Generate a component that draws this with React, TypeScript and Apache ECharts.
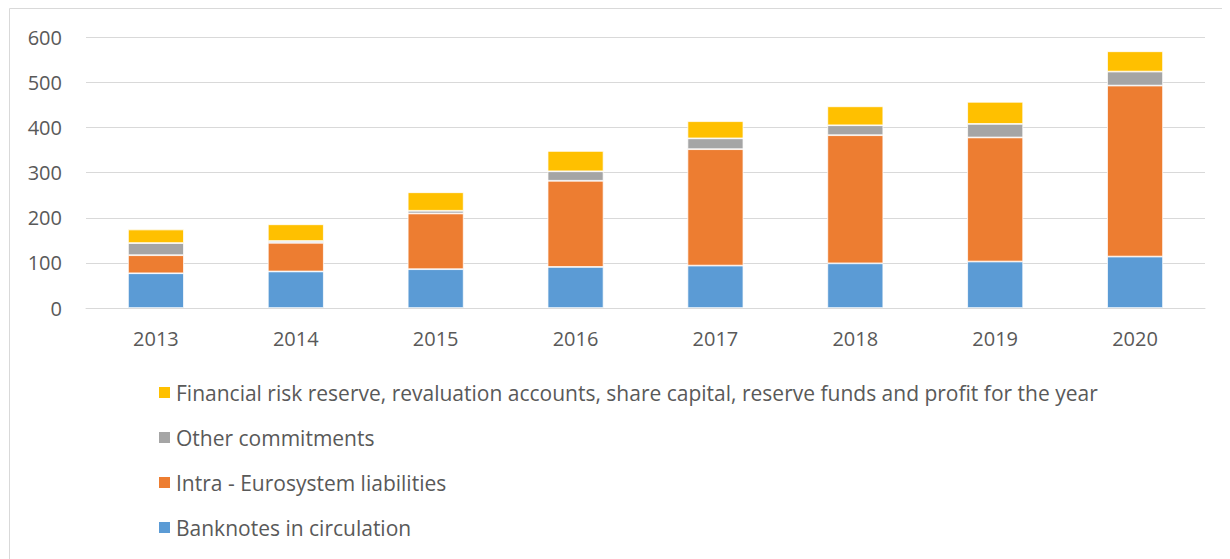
import React, { useEffect, useRef } from "react";
import * as echarts from "echarts";

const categories = ["2013", "2014", "2015", "2016", "2017", "2018", "2019", "2020"];
const banknotes = [77, 81, 86, 91, 94, 99, 103, 114];
const intraEuro = [40, 63.5, 123.5, 191, 258, 284, 275, 379];
const otherCommitments = [27, 4, 6, 21, 24, 22, 30, 31];
const financialRisk = [30, 37, 41, 45, 38, 42, 49, 45];

const seriesNames = [
  "Financial risk reserve, revaluation accounts, share capital, reserve funds and profit for the year",
  "Other commitments",
  "Intra - Eurosystem liabilities",
  "Banknotes in circulation",
];

const FONT = "Open Sans";
const TXT = "#595959";

export default function App() {
  const ref = useRef<HTMLDivElement>(null);
  useEffect(() => {
    if (!ref.current) return;
    const chart = echarts.init(ref.current, undefined, { renderer: "svg" });
    const bar = (name: string, data: number[], color: string) => ({
      name,
      type: "bar",
      stack: "total",
      data,
      barCategoryGap: "60%",
      itemStyle: { color, borderColor: "#ffffff", borderWidth: 0.75 },
    });
    chart.setOption({
      animation: false,
      textStyle: { fontFamily: FONT },
      grid: { left: 78, right: 25, top: 29.3, bottom: 251, containLabel: false },
      graphic: [
        {
          type: "rect",
          shape: { x: 1.5, y: 0.5, width: 1300, height: 700 },
          style: { fill: "none", stroke: "#d9d9d9", lineWidth: 1 },
          silent: true,
        },
      ],
      legend: {
        orient: "vertical",
        left: 149,
        top: 374,
        padding: 0,
        itemWidth: 13,
        itemHeight: 13,
        itemGap: 24,
        icon: "rect",
        data: seriesNames,
        textStyle: { color: TXT, fontSize: 21, fontFamily: FONT, lineHeight: 21, padding: [0, 0, 0, 0] },
        selectedMode: false,
      },
      xAxis: {
        type: "category",
        data: categories,
        axisLine: { lineStyle: { color: "#d9d9d9", width: 1 } },
        axisTick: { show: false },
        axisLabel: { color: TXT, fontSize: 20, fontFamily: FONT, margin: 20 },
      },
      yAxis: {
        type: "value",
        min: 0,
        max: 600,
        interval: 100,
        axisLine: { show: false },
        axisTick: { show: false },
        splitLine: { lineStyle: { color: "#d9d9d9", width: 1 } },
        axisLabel: { color: TXT, fontSize: 20, fontFamily: FONT, margin: 24 },
      },
      series: [
        bar(seriesNames[3], banknotes, "#5B9BD5"),
        bar(seriesNames[2], intraEuro, "#ED7D31"),
        bar(seriesNames[1], otherCommitments, "#A5A5A5"),
        bar(seriesNames[0], financialRisk, "#FFC000"),
      ],
    });
    return () => chart.dispose();
  }, []);
  return <div ref={ref} style={{ width: 1222, height: 551 }} />;
}
